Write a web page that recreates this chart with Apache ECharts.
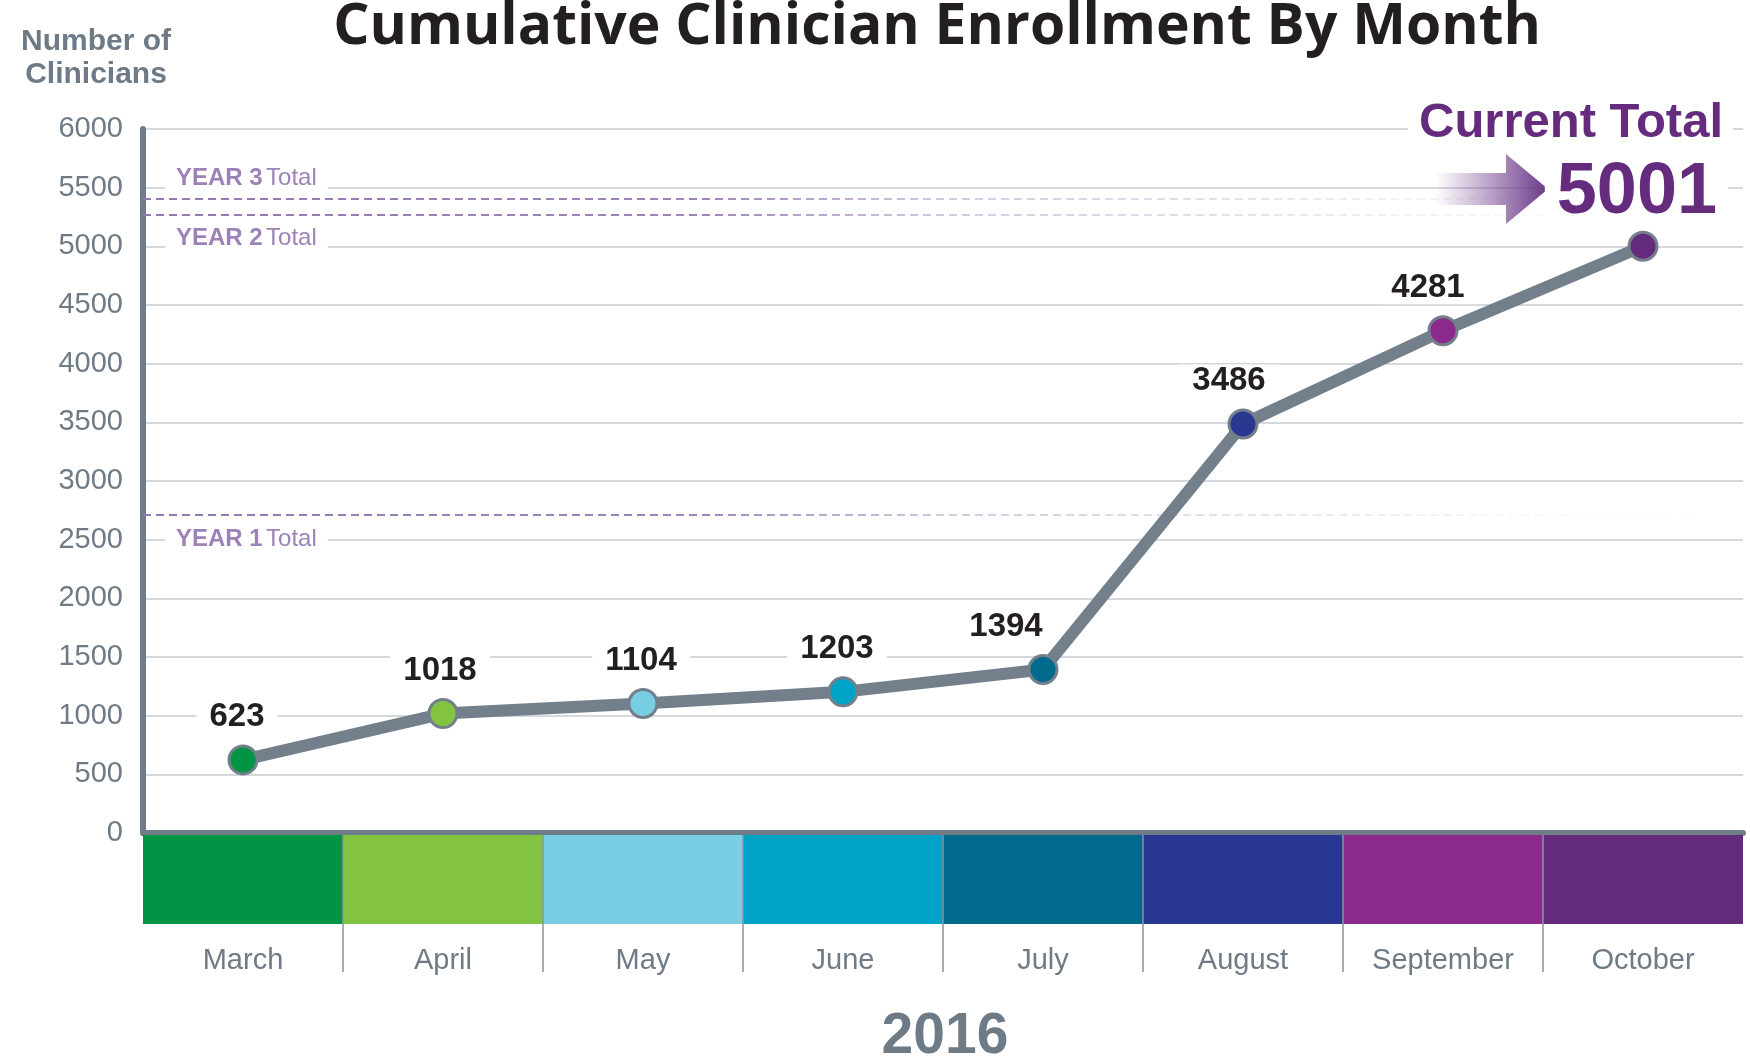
<!DOCTYPE html>
<html>
<head>
<meta charset="utf-8">
<title>Cumulative Clinician Enrollment By Month</title>
<script src="https://cdn.jsdelivr.net/npm/echarts@6/dist/echarts.min.js"></script>
<style>
html, body { margin: 0; padding: 0; background: #fff; }
#chart { width: 1750px; height: 1057px; }
</style>
</head>
<body>
<div id="chart"></div>
<script>
var months = ['March', 'April', 'May', 'June', 'July', 'August', 'September', 'October'];
var clinicians = [623, 1018, 1104, 1203, 1394, 3486, 4281, 5001];
var monthColors = ['#009444', '#82c341', '#78cfe3', '#00a3c8', '#00698c', '#283891', '#8b2a8c', '#642a7b'];
var yearNames = ['YEAR 1', 'YEAR 2', 'YEAR 3'];
var yearTotals = [2715, 5265, 5405];
var yearCaptionRows = [2500, 5000, 5500]; // gridline each caption sits on
var yMin = 0, yMax = 6000, yStep = 500;
var yearTitle = '2016';

// label nudges (px) so the numbers clear the line
var labelDx = [-6, -3, -2, -6, -37, -14, -15, 0];

var FONT = '"Liberation Sans", Arial, sans-serif';
var GRAY = '#6e7b86';
var AXIS = '#6f7c87';
var LINE = '#737f8a';
var GRID = '#d5d8dc';
var LAVENDER = '#9d82b8';
var PURPLE = '#652c7e';

var chart = echarts.init(document.getElementById('chart'));

var dashColor = new echarts.graphic.LinearGradient(143, 0, 1743, 0, [
	{ offset: 0, color: 'rgba(150,120,180,1)' },
	{ offset: 0.35, color: 'rgba(150,120,180,0.9)' },
	{ offset: 0.5, color: 'rgba(150,120,180,0.4)' },
	{ offset: 0.85, color: 'rgba(150,120,180,0.06)' },
	{ offset: 1, color: 'rgba(150,120,180,0)' }
], true);

var option = {
	animation: false,
	backgroundColor: '#fff',
	textStyle: { fontFamily: FONT },
	grid: [
		{ left: 143, right: 7, top: 129, bottom: 224 },
		{ left: 143, right: 7, top: 835, height: 89 }
	],
	xAxis: [
		{
			type: 'category', gridIndex: 0, data: months, boundaryGap: true,
			axisLine: { show: true, lineStyle: { color: AXIS, width: 6 } },
			axisTick: { show: false }, axisLabel: { show: false }
		},
		{
			type: 'category', gridIndex: 1, data: months, position: 'bottom',
			axisLine: { show: false }, axisTick: { show: false }, splitLine: { show: false },
			axisLabel: { fontSize: 29, color: GRAY, margin: 22, fontFamily: FONT }
		}
	],
	yAxis: [
		{
			type: 'value', gridIndex: 0, min: yMin, max: yMax, interval: yStep,
			axisLine: { show: true, lineStyle: { color: AXIS, width: 6 } },
			axisTick: { show: false },
			axisLabel: {
				fontSize: 29, color: GRAY, margin: 20, fontFamily: FONT,
				formatter: function (v) { return String(v); }
			},
			splitLine: { show: true, lineStyle: { color: GRID, width: 2 } }
		},
		{ type: 'value', gridIndex: 1, min: 0, max: 1, show: false }
	],
	series: [
		{
			type: 'line',
			xAxisIndex: 0, yAxisIndex: 0,
			data: clinicians.map(function (v, i) {
				return {
					value: v,
					itemStyle: { color: monthColors[i] },
					label: { show: i < clinicians.length - 1, offset: [labelDx[i], 0] }
				};
			}),
			symbol: 'circle',
			symbolSize: 28,
			lineStyle: { color: LINE, width: 12 },
			itemStyle: { borderColor: LINE, borderWidth: 3 },
			label: {
				show: true, position: 'top', distance: 11,
				fontSize: 33, fontWeight: 'bold', color: '#231f20', fontFamily: FONT,
				backgroundColor: '#fff', padding: [0, 13]
			},
			emphasis: { disabled: true },
			silent: true,
			z: 5,
			markLine: {
				silent: true,
				symbol: 'none',
				label: { show: false },
				lineStyle: { type: [8, 5], width: 2, color: dashColor },
				data: yearTotals.map(function (v) { return { yAxis: v }; })
			}
		},
		{
			// colour band with month separators
			type: 'custom',
			xAxisIndex: 1, yAxisIndex: 1,
			silent: true,
			clip: false,
			data: months.map(function (m, i) { return [i, 1]; }),
			renderItem: function (params, api) {
				var i = api.value(0);
				var top = api.coord([i, 1]);
				var bottom = api.coord([i, 0]);
				var w = api.size([1, 0])[0];
				var x0 = top[0] - w / 2;
				var kids = [{
					type: 'rect',
					shape: { x: x0, y: top[1], width: w, height: bottom[1] - top[1] },
					style: { fill: monthColors[i] }
				}];
				if (i > 0) {
					kids.push({
						type: 'line',
						shape: { x1: x0, y1: top[1], x2: x0, y2: bottom[1] + 48 },
						style: { stroke: '#8a949d', lineWidth: 1.5 }
					});
				}
				return { type: 'group', children: kids };
			}
		}
	]
};

chart.setOption(option);

// annotations, placed against the value axis
var graphics = [];

graphics.push({
	type: 'text', x: 937, y: 28, z: 10,
	style: { text: 'Cumulative Clinician Enrollment By Month', fill: '#231f20', font: 'bold 57px "Open Sans", sans-serif', align: 'center', verticalAlign: 'middle' }
});

graphics.push({
	type: 'text', x: 96, y: 58, z: 10,
	style: { text: 'Number of\nClinicians', fill: GRAY, font: 'bold 30px ' + FONT, align: 'center', verticalAlign: 'middle', lineHeight: 33 }
});

var yearDy = [0, -8, -9];
yearNames.forEach(function (name, i) {
	var y = chart.convertToPixel({ yAxisIndex: 0 }, yearCaptionRows[i]) + yearDy[i];
	graphics.push({
		type: 'text', x: 165, y: y, z: 10,
		style: {
			text: '{b|' + name + '} {r|Total}',
			fill: LAVENDER, align: 'left', verticalAlign: 'middle',
			backgroundColor: '#fff', padding: [2, 11],
			rich: {
				b: { fontSize: 24, fontWeight: 'bold', fill: LAVENDER, fontFamily: FONT },
				r: { fontSize: 24, fill: LAVENDER, fontFamily: FONT }
			}
		}
	});
});

graphics.push({
	type: 'text', x: 1733, y: 123, z: 10,
	style: { text: 'Current Total', fill: PURPLE, font: 'bold 49px ' + FONT, align: 'right', verticalAlign: 'middle', backgroundColor: '#fff', padding: [0, 10, 0, 11] }
});

graphics.push({
	type: 'polygon', z: 10,
	shape: { points: [[1435, 173], [1506, 173], [1506, 154], [1548, 189], [1506, 224], [1506, 205], [1435, 205]] },
	style: {
		fill: new echarts.graphic.LinearGradient(0, 0, 1, 0, [
			{ offset: 0, color: 'rgba(120,70,150,0)' },
			{ offset: 1, color: 'rgba(104,56,134,1)' }
		])
	}
});

graphics.push({
	type: 'text', x: 1728, y: 193, z: 10,
	style: { text: String(clinicians[clinicians.length - 1]), fill: PURPLE, font: 'bold 72px ' + FONT, align: 'right', verticalAlign: 'middle', backgroundColor: '#fff', padding: [0, 11, 0, 12] }
});

graphics.push({
	type: 'text', x: 945, y: 1037, z: 10,
	style: { text: yearTitle, fill: GRAY, font: 'bold 57px ' + FONT, align: 'center', verticalAlign: 'middle' }
});

chart.setOption({ graphic: graphics });
</script>
</body>
</html>
